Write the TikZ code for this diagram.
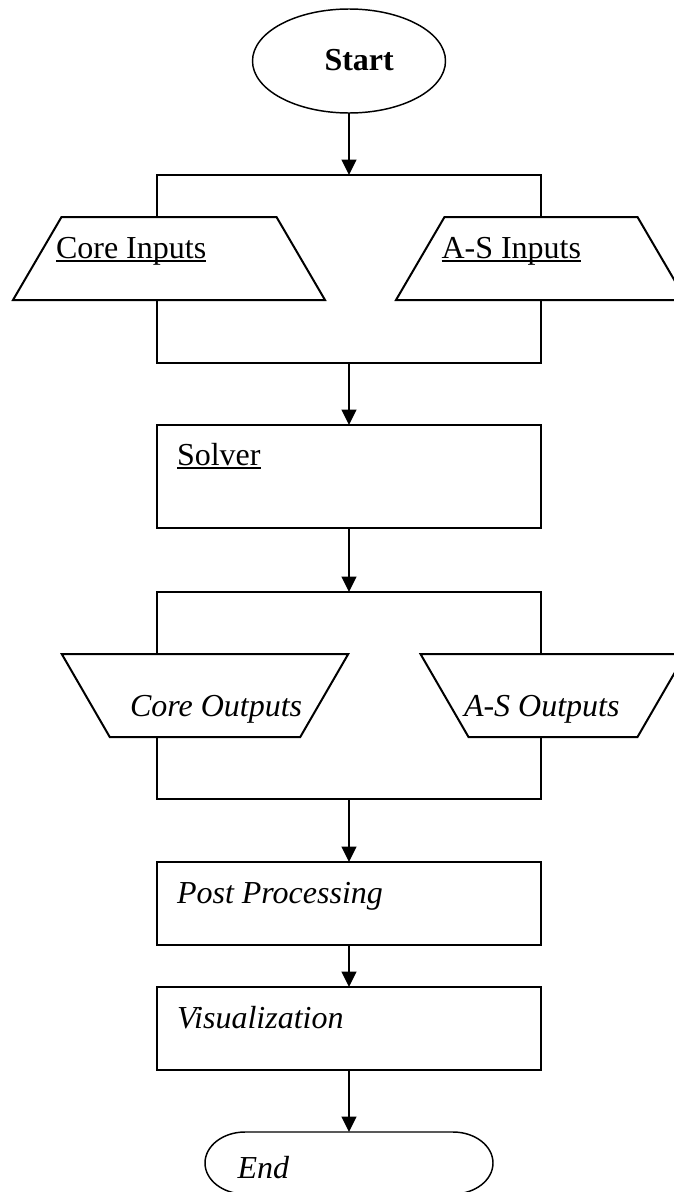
\documentclass[tikz,border=0pt]{standalone}
\usepackage{fontspec}
\setmainfont{Liberation Serif}
\usetikzlibrary{shapes.geometric,arrows.meta}
\newcommand\px{0.75pt}
\newcommand\myul[1]{\setbox0\hbox{#1}\rlap{\rule[-0.11em]{\wd0}{0.06em}}\box0}
\begin{document}
\begin{tikzpicture}[x=0.75pt,y=-0.75pt,
  shp/.style={draw,line width=1.5pt,inner sep=0pt,outer sep=0pt},
  iobox/.style={rectangle,inner sep=0pt,outer sep=0pt,minimum height=83*\px},
  stepbox/.style={shp,rectangle,minimum width=384*\px},
  txt/.style={inner sep=0pt,outer sep=0pt,anchor=base west,font=\fontsize{24}{28}\selectfont},
  arr/.style={line width=1.5pt,-{Triangle[length=11.5pt,width=11pt]}},
  ln/.style={line width=1.5pt},
  par/.style={line width=1.5pt,line join=miter}]
\useasboundingbox (0,0) rectangle (674,1192);
\clip (0,0) rectangle (674,1192);
\fill[white] (0,0) rectangle (674,1192);

% shapes
\node[shp,ellipse,line width=1.1pt,minimum width=193*\px,minimum height=104*\px] (start) at (349,61) {};
\node[iobox,minimum width=312*\px] (cin) at (169,258.5) {};
\node[iobox,minimum width=290*\px] (asin) at (541,258.5) {};
\node[stepbox,minimum height=103*\px] (solver) at (349,476.5) {};
\node[iobox,minimum width=286.5*\px] (cout) at (205,695.5) {};
\node[iobox,minimum width=265*\px] (asout) at (553,695.5) {};
\node[stepbox,minimum height=83*\px] (post) at (349,903.5) {};
\node[stepbox,minimum height=83*\px] (vis) at (349,1028.5) {};
\node[rectangle,inner sep=0pt,outer sep=0pt,minimum width=288*\px,minimum height=62*\px] (end) at (349,1163) {};

% input / output outlines
\draw[par] ([xshift=48.5*\px]cin.north west) -- ([xshift=-48.5*\px]cin.north east)
  -- (cin.south east) -- (cin.south west) -- cycle;
\draw[par] ([xshift=48.5*\px]asin.north west) -- ([xshift=-48.5*\px]asin.north east)
  -- (asin.south east) -- (asin.south west) -- cycle;
\draw[par] (cout.north west) -- (cout.north east)
  -- ([xshift=-48*\px]cout.south east) -- ([xshift=48*\px]cout.south west) -- cycle;
\draw[par] (asout.north west) -- (asout.north east)
  -- ([xshift=-48*\px]asout.south east) -- ([xshift=48*\px]asout.south west) -- cycle;

% terminal outline (elliptic ends)
\draw[line width=1.1pt] ([xshift=40*\px]end.north west) -- ([xshift=-40*\px]end.north east)
  arc[start angle=90,end angle=-90,x radius=30pt,y radius=23.25pt]
  -- ([xshift=40*\px]end.south west)
  arc[start angle=270,end angle=90,x radius=30pt,y radius=23.25pt] -- cycle;

% texts
\node[txt,font=\fontsize{24}{28}\selectfont\bfseries] (tstart) at (324.5,70) {Start};
\node[txt] (tcin) at (56,258) {\myul{Core Inputs}};
\node[txt] (tasin) at (441.5,258) {\myul{A-S Inputs}};
\node[txt] (tsolver) at (177,465) {\myul{Solver}};
\node[txt,font=\fontsize{24}{28}\selectfont\itshape] (tcout) at (130,716) {Core Outputs};
\node[txt,font=\fontsize{24}{28}\selectfont\itshape] (tasout) at (464,716) {A-S Outputs};
\node[txt,font=\fontsize{24}{28}\selectfont\itshape] (tpost) at (177,903) {Post Processing};
\node[txt,font=\fontsize{24}{28}\selectfont\itshape] (tvis) at (177,1028) {Visualization};
\node[txt,font=\fontsize{24}{28}\selectfont\itshape] (tend) at (237.5,1178) {End};

% junctions
\coordinate (j1) at (349,175);
\coordinate (j2) at (349,363);
\coordinate (j3) at (349,592);
\coordinate (j4) at (349,799);

% connectors
\draw[arr] (start) -- (j1);
\draw[ln] (solver.west |- cin.north) |- (j1) -| (solver.east |- asin.north);
\draw[ln] (solver.west |- cin.south) |- (j2) -| (solver.east |- asin.south);
\draw[arr] (j2) -- (solver);
\draw[arr] (solver) -- (j3);
\draw[ln] (solver.west |- cout.north) |- (j3) -| (solver.east |- asout.north);
\draw[ln] (solver.west |- cout.south) |- (j4) -| (solver.east |- asout.south);
\draw[arr] (j4) -- (post);
\draw[arr] (post) -- (vis);
\draw[arr] (vis) -- (end);
\end{tikzpicture}
\end{document}
